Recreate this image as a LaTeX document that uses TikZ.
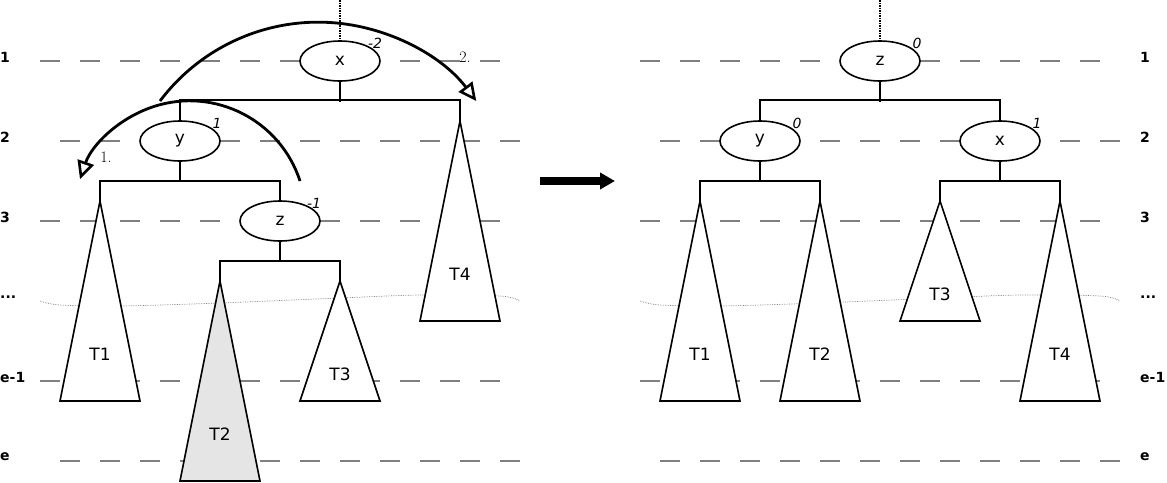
\documentclass[tikz,border=0pt]{standalone}
\usepackage{fontspec}
\setsansfont{DejaVu Sans}
\usetikzlibrary{arrows.meta, shapes.geometric}

\begin{document}
\begin{tikzpicture}[x=1pt, y=-1pt, font=\sffamily\fontsize{17}{19}\selectfont,
      key/.style={draw, ellipse, line width=1.6pt, fill=white, minimum width=80pt,
        minimum height=40pt, inner sep=0pt},
      tri/.style={draw, line width=1.6pt, fill=white},
      edge/.style={line width=1.6pt},
      lev/.style={gray, line width=2pt, dash pattern=on 20pt off 20pt},
      wave/.style={gray, densely dotted, line width=0.7pt},
      bal/.style={font=\sffamily\itshape\fontsize{14}{16}\selectfont},
      num/.style={font=\sffamily\bfseries\fontsize{14}{16}\selectfont, anchor=west, inner sep=0pt},
      stepnum/.style={font=\rmfamily\fontsize{16}{18}\selectfont},
      rot/.style={line width=2.8pt, -{Triangle[open, length=18pt, width=17pt, line width=2.6pt]}}]
    \useasboundingbox (0,0) rectangle (1167,482);
    % levels
    \foreach \y/\a in {61/40, 141/60, 221/40, 381/40, 461/60} {
      \draw[lev] (\a,\y) -- ++(460,0);
      \draw[lev] (\a+600,\y) -- ++(460,0);
    }
    \foreach \s in {0, 600}
      \draw[wave, xshift=\s] plot[smooth] coordinates {(40,301) (60,305) (120,306) (220,303)
        (340,298) (420,295) (500,296) (520,301)};
    \foreach \n/\t/\y in {1/1/57, 2/2/137, 3/3/217, 5/e-1/377, 6/e/457} {
      \node[num] (ln\n) at (0,\y) {\t};
      \node[num] (rn\n) at (1140,\y) {\t};
    }
    \node[num] (ln4) at (0,297) {...};
    \node[num] (rn4) at (1140,297) {...};
    % before
    \foreach \n/\x/\y/\h/\c in {lt1/100/201/200/white, lt2/220/281/200/black!10,
        lt3/340/281/120/white, lt4/460/121/200/white} {
      \coordinate (\n) at (\x,\y);
      \draw[tri, fill=\c] (\n) -- ++(-40,\h) -- ++(80,0) -- cycle;
    }
    \node (lt1l) at (100,354) {T1};
    \node (lt2l) at (220,434) {T2};
    \node (lt3l) at (340,374) {T3};
    \node (lt4l) at (460,274) {T4};
    \node[key] (lx) at (340,61)  {x};
    \node[key] (ly) at (180,141) {y};
    \node[key] (lz) at (280,221) {z};
    \coordinate (ltop) at (340,0);
    \draw[densely dotted, line width=1.5pt] (ltop) -- (lx.north);
    \draw[edge] (lx.south) -- ++(0,20);
    \draw[edge] (ly.north) -- ++(0,-20) -| (lt4);
    \draw[edge] (ly.south) -- ++(0,20);
    \draw[edge] (lt1) -- ++(0,-20) -| (lz.north);
    \draw[edge] (lz.south) -- ++(0,20);
    \draw[edge] (lt2) -- ++(0,-20) -| (lt3);
    \node[bal] (lxb) at (375,43)  {-2};
    \node[bal] (lyb) at (217,123) {1};
    \node[bal] (lzb) at (314,203) {-1};
    % rotations
    \coordinate (r1) at (300,181);
    \coordinate (r2) at (160,101);
    \draw[rot] (r1) arc[start angle=-18, end angle=-161, radius=116];
    \draw[rot] (r2) arc[start angle=-143, end angle=-37, radius=198];
    \node[stepnum] (s1) at (106,157) {1.};
    \node[stepnum] (s2) at (465,57)  {2.};
    % result
    \coordinate (m1) at (540,181);
    \coordinate (m2) at (615,181);
    \draw[line width=8pt, -{Triangle[length=15pt, width=16pt]}] (m1) -- (m2);
    % after
    \foreach \n/\x/\y/\h in {rt1/700/201/200, rt2/820/201/200, rt3/940/201/120, rt4/1060/201/200} {
      \coordinate (\n) at (\x,\y);
      \draw[tri] (\n) -- ++(-40,\h) -- ++(80,0) -- cycle;
    }
    \node (rt1l) at (700,354)  {T1};
    \node (rt2l) at (820,354)  {T2};
    \node (rt3l) at (940,294)  {T3};
    \node (rt4l) at (1060,354) {T4};
    \node[key] (rz) at (880,61)   {z};
    \node[key] (ry) at (760,141)  {y};
    \node[key] (rx) at (1000,141) {x};
    \coordinate (rtop) at (880,0);
    \draw[densely dotted, line width=1.5pt] (rtop) -- (rz.north);
    \draw[edge] (rz.south) -- ++(0,20);
    \draw[edge] (ry.north) -- ++(0,-20) -| (rx.north);
    \draw[edge] (ry.south) -- ++(0,20);
    \draw[edge] (rt1) -- ++(0,-20) -| (rt2);
    \draw[edge] (rx.south) -- ++(0,20);
    \draw[edge] (rt3) -- ++(0,-20) -| (rt4);
    \node[bal] (rzb) at (917,43)  {0};
    \node[bal] (ryb) at (797,123) {0};
    \node[bal] (rxb) at (1037,123) {1};
  \end{tikzpicture}
\end{document}
